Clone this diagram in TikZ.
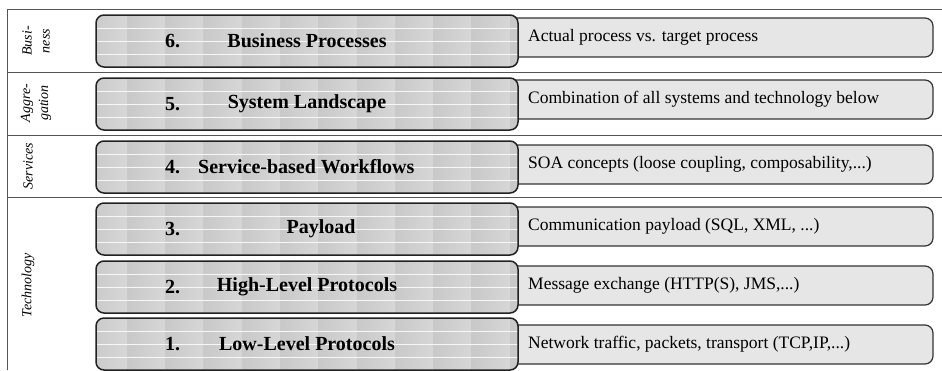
\documentclass[tikz,border=0pt]{standalone}
\usepackage{fontspec}
\setmainfont{Liberation Serif}
\definecolor{rfill}{HTML}{E6E6E6}
\definecolor{lline}{HTML}{222222}
\definecolor{rline}{HTML}{333333}
\definecolor{sline}{HTML}{555555}
\definecolor{tiletop}{HTML}{C9C9C9}
\definecolor{tilemid}{HTML}{F0F0F0}
\definecolor{tilebot}{HTML}{D6D6D6}
\definecolor{tileedge}{HTML}{F7F7F7}
\tikzset{
  rbox/.style={draw=rline, fill=rfill, rounded corners=8pt, minimum width=428pt, minimum height=39pt, inner sep=0pt, line width=1.2pt},
  lbox/.style={draw=lline, rounded corners=8pt, minimum width=422pt, minimum height=52pt, inner sep=0pt, line width=1.5pt},
  tile/.style={top color=tiletop, middle color=tilemid, bottom color=tilebot, shading angle=80},
  tileline/.style={draw=tileedge, line width=0.8pt},
  numtext/.style={anchor=west, inner sep=0pt, font=\fontsize{20}{24}\selectfont\bfseries},
  ttltext/.style={anchor=center, inner sep=0pt, font=\fontsize{20}{24}\selectfont\bfseries},
  dtext/.style={anchor=west, inner sep=0pt, font=\fontsize{17.5}{21}\selectfont},
  seclabel/.style={rotate=90, align=center, inner sep=0pt, font=\fontsize{14}{18}\selectfont\itshape},
  sep/.style={draw=sline, line width=1pt}
}
\newcommand\mylayer[8]{%
  \node[rbox] (d#1) at (719,#3+19.5) {};
  \node[dtext] (t#1) at (528,#3+19.5) {#8};
  \begin{scope}
    \clip[rounded corners=8pt] (96,#2) rectangle (518,#2+52);
    \foreach \c in {0,...,11}{\foreach \r in {0,...,3}{%
      \shade[tile] (88.7+38.3*\c,#2+13*\r) rectangle ++(38.3,13);}}
    \foreach \r in {1,2,3}{\draw[tileline] (96,#2+13*\r) -- (518,#2+13*\r);}
  \end{scope}
  \node[lbox] (b#1) at (307,#2+26) {};
  \node[numtext] (n#1) at (165,#2+26) {#4};
  \node[ttltext, anchor=#7] (h#1) at (#6,#2+26) {#5};
}
\begin{document}
\begin{tikzpicture}[x=1pt,y=-1pt]
\useasboundingbox (0,0) rectangle (942,370);
\draw[sep] (7,370) -- (7,9) -- (942,9);
\draw[sep] (7,72) -- (942,72);
\draw[sep] (7,135) -- (942,135);
\draw[sep] (7,197) -- (942,197);
\mylayer{6}{15}{18}{6.}{Business Processes}{307}{center}{Actual process vs. target process}
\mylayer{5}{78}{80}{5.}{System Landscape}{307}{center}{Combination of all systems and technology below}
\mylayer{4}{141}{145}{4.}{Service-based Workflows}{198}{west}{SOA concepts (loose coupling, composability,...)}
\mylayer{3}{203}{207}{3.}{Payload}{321}{center}{Communication payload (SQL, XML, ...)}
\mylayer{2}{261}{266}{2.}{High-Level Protocols}{307}{center}{Message exchange (HTTP(S), JMS,...)}
\mylayer{1}{318}{325}{1.}{Low-Level Protocols}{307}{center}{Network traffic, packets, transport (TCP,IP,...)}
\node[seclabel] (s6) at (36,41) {Busi-\\ness};
\node[seclabel] (s5) at (36,103) {Aggre-\\gation};
\node[seclabel] (s4) at (28,166) {Services};
\node[seclabel] (s3) at (28,285) {Technology};
\end{tikzpicture}
\end{document}
